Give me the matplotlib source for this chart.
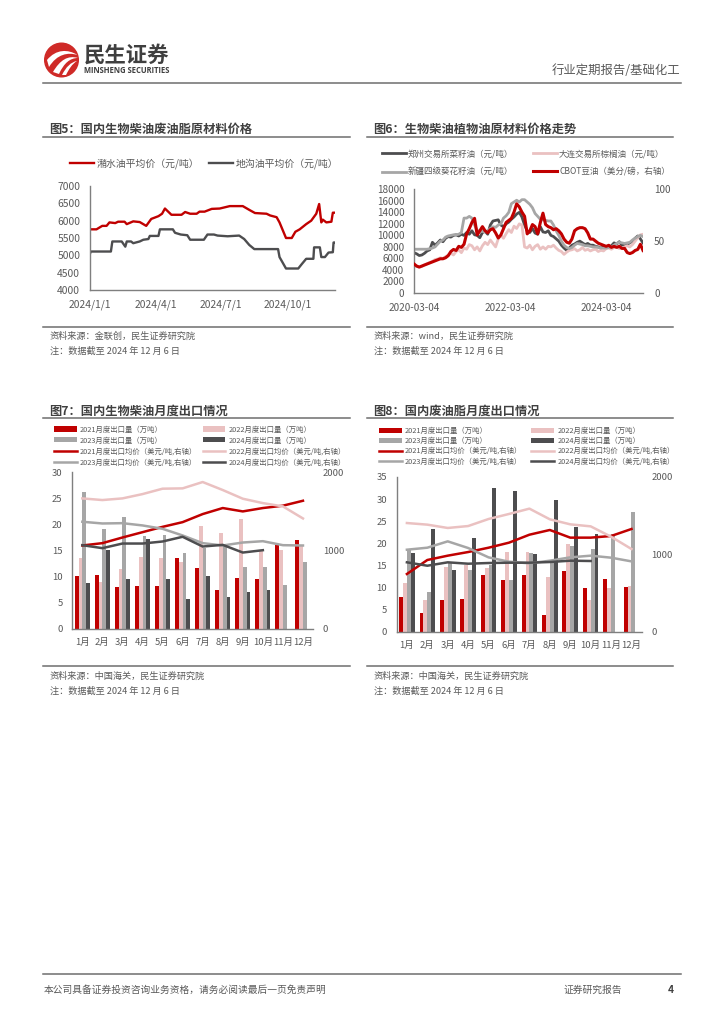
import numpy as np
import pandas as pd
import matplotlib
matplotlib.use("Agg")
import matplotlib.pyplot as plt
from matplotlib.path import Path
from matplotlib.patches import PathPatch, Circle

plt.rcParams['font.family'] = ['Noto Sans CJK SC', 'DejaVu Sans']

RED = '#c00000'
PINK = '#eac1c1'
GRAY = '#a6a6a6'
DARK = '#4d4d4f'
TXT = '#595959'
RULE = '#6e6e6e'

# full width punctuation
CO = '\uff1a'
CM = '\uff0c'
LP = '\uff08'
RP = '\uff09'

# fig 5
red5_dates = ['1/1','1/10','1/14','1/18','1/24','1/28','2/5','2/9','2/18','2/21','3/1','3/10','3/19','3/26','4/5','4/10','4/14','4/23','5/7','5/12','5/19','5/28','6/1','6/8','6/18','6/29','7/13','7/31','8/10','8/17','9/2','9/7','9/16','9/20','9/29','10/7','10/12','10/18','10/27','11/3','11/10','11/14','11/17','11/19','11/24','12/1','12/3','12/6']
red5 = [5750,5750,5800,5850,5850,5950,5930,5970,5970,5900,5980,5960,5850,6050,6130,6200,6350,6170,6170,6250,6200,6200,6260,6260,6340,6350,6420,6420,6300,6220,6200,6150,6100,5950,5500,5500,5680,5750,5900,6000,6200,6480,5950,6030,5950,5970,6230,6230]
gray5_dates = ['1/1','1/2','1/30','2/1','2/14','2/19','2/21','2/27','3/1','3/10','3/15','3/22','3/24','4/5','4/7','4/25','4/28','5/6','5/15','5/19','6/7','6/12','6/21','6/26','7/10','7/26','8/2','8/9','8/16','9/18','9/20','9/29','10/16','10/21','10/27','11/6','11/7','11/15','11/17','11/22','11/27','12/3','12/4','12/6']
gray5 = [5050,5110,5110,5400,5400,5250,5400,5400,5350,5400,5450,5470,5560,5560,5750,5750,5650,5600,5580,5450,5450,5600,5600,5570,5550,5570,5470,5300,5180,5180,4950,4620,4620,4750,4900,4900,5230,5230,4950,4950,5080,5090,5370,5370]
ticks5 = ['2024/1/1', '2024/4/1', '2024/7/1', '2024/10/1']

# fig 6
rapeseed = [7000,6800,6500,6600,6900,7300,7500,8800,8300,8700,
            9200,8900,9500,9800,9700,10000,10100,9900,10200,10000,
            10500,10200,10800,10100,10000,9600,10500,10700,10200,11800,
            12500,12600,12700,11800,11500,12000,12300,12800,13200,13700,
            14000,13200,11800,10800,10500,11200,10400,10200,11500,10600,
            10500,10800,10000,9800,9400,9000,8300,7800,7400,7800,
            8300,8500,8800,9000,8700,8400,8600,8300,8300,8100,
            8000,7800,8000,8100,7900,8200,8700,8500,8900,8300,
            8400,8500,8700,9000,9500,9900,9400,8700]
palm = [4800,4600,4500,4600,4900,5100,5300,5500,5800,5900,
        6100,6000,6300,6600,6900,6600,7200,7500,7000,7800,
        7600,8400,8200,7500,8000,7300,8200,8800,8400,9200,
        8600,8000,9400,10000,9500,10300,11000,10500,11600,11200,
        12000,11800,8000,7800,8300,7500,8100,8400,7600,8000,
        7600,8100,8000,8300,7800,7400,7200,6700,7100,7400,
        7500,7700,7300,7500,7900,7400,7600,7300,7500,7600,
        7200,7400,7300,7700,7800,7600,7900,8000,7700,7800,
        8000,8200,8000,8400,9000,9600,10100,10200]
sunflower = [7600,7600,7600,7600,7600,7600,7700,7800,8000,8500,
             9000,9200,9700,9900,10000,10100,10100,10200,10500,13000,
             13000,13300,13000,11800,10900,10600,10700,10600,10800,11200,
             11500,11400,11800,12000,13000,13400,14000,15500,15800,16100,
             15800,16200,16200,15800,15400,14800,13800,13300,12800,12700,
             12600,12500,12500,11800,10800,10000,9000,8300,7900,7700,
             7900,8300,8600,8500,8400,8200,8200,8100,8000,8000,
             7900,7800,7800,7800,7900,8000,8300,8600,8800,8700,
             8600,8700,8800,9200,9500,9800,10000,9800]
cbot = [28,26,25,26,27,28,29,30,31,32,
        33,33,34,36,40,42,41,45,44,47,
        57,62,68,72,56,60,64,60,58,61,
        62,58,53,56,62,68,70,72,78,86,
        83,78,74,57,60,66,64,57,68,77,
        66,64,63,61,62,60,57,52,49,48,
        52,60,62,63,63,62,58,52,52,50,
        48,47,46,45,46,44,45,44,45,43,
        43,39,38,39,41,42,47,41]
ticks6 = ['2020-03-04', '2022-03-04', '2024-03-04']

months = ['1月','2月','3月','4月','5月','6月','7月','8月','9月','10月','11月','12月']
nan = np.nan

# fig 7
vol7_21 = [10,10.2,8,8.2,8.2,13.5,11.7,7.4,9.7,9.5,16,17]
vol7_22 = [13.5,9,11.4,13.7,13.5,12.8,19.7,18.3,21,15,15,16]
vol7_23 = [26.2,19,21.3,17.7,18,14.4,15.5,15.8,11.9,11.8,8.3,12.7]
vol7_24 = [8.8,15,9.5,17.2,9.5,5.6,10,6,7,7.4,nan,nan]
px7_21 = [1062,1092,1164,1232,1300,1360,1463,1540,1497,1540,1570,1633]
px7_22 = [1663,1642,1663,1718,1787,1791,1872,1770,1659,1603,1561,1407]
px7_23 = [1365,1343,1347,1318,1275,1190,1092,1062,1100,1117,1066,1062]
px7_24 = [1066,1028,1087,1087,1113,1173,1049,1070,972,1002,nan,nan]

# fig 8
vol8_21 = [7.8,4.2,7.1,7.5,12.9,11.8,12.8,3.8,13.7,10,12,10.2]
vol8_22 = [11,7.2,14.6,15,14.4,18,18.1,12.3,19.8,7.1,9.8,10.3]
vol8_23 = [18.5,9,15.5,13.9,15,11.6,17.7,15.5,19.5,18.7,22,27]
vol8_24 = [17.7,23.3,13.9,21.2,32.5,31.9,17.6,29.9,23.7,22.2,nan,nan]
px8_21 = [746,927,983,1030,1086,1151,1254,1315,1216,1216,1237,1328]
px8_22 = [1405,1384,1341,1366,1457,1522,1591,1453,1388,1362,1228,1069]
px8_23 = [1060,1086,1168,1082,961,905,884,918,961,983,957,909]
px8_24 = [897,853,897,879,888,892,892,901,918,914,nan,nan]

W, H = 724, 1024
fig = plt.figure(figsize=(W/100, H/100), dpi=100)

# page layer in pixels
page = fig.add_axes([0, 0, 1, 1])
page.set_xlim(0, W)
page.set_ylim(H, 0)
page.axis('off')


def axes_px(x0, x1, ytop, ybot, size=7.4, ypad=7, xpad=7):
    ax = fig.add_axes([x0/W, 1-ybot/H, (x1-x0)/W, (ybot-ytop)/H])
    ax.patch.set_alpha(0)
    for s in ['top', 'right']:
        ax.spines[s].set_visible(False)
    for s in ['left', 'bottom']:
        ax.spines[s].set_color('#7f7f7f')
        ax.spines[s].set_linewidth(1.0)
    ax.tick_params(length=0, labelsize=size, labelcolor=TXT)
    ax.tick_params(axis='y', pad=ypad)
    ax.tick_params(axis='x', pad=xpad)
    return ax


def right_axis(ax, size, pad):
    axr = ax.twinx()
    axr.patch.set_alpha(0)
    axr.tick_params(length=0, labelsize=size, labelcolor=TXT, pad=pad)
    for s in ['top', 'right', 'left', 'bottom']:
        axr.spines[s].set_visible(False)
    return axr


def legend_px(ax, hs, x, y, ncol, size, **kw):
    labels = [h.get_label() for h in hs]
    ax.legend(hs, labels, loc='upper left', bbox_to_anchor=(x/W, 1-y/H), bbox_transform=fig.transFigure,
              ncol=ncol, frameon=False, fontsize=size, labelcolor=TXT, borderpad=0, borderaxespad=0, **kw)


def panel(x0, x1, title, ytitle, yrule, ybottom, source):
    page.text(x0+6.5, ytitle, title, fontsize=8.8, fontweight='bold', color='#404040', va='center')
    page.plot([x0, x1], [yrule, yrule], color=RULE, lw=1.1)
    page.plot([x0, x1], [ybottom, ybottom], color=RULE, lw=1.1)
    page.text(x0+7, ybottom+10, source, fontsize=6.6, color=TXT, va='center')
    page.text(x0+7, ybottom+25, '注' + CO + '数据截至 2024 年 12 月 6 日', fontsize=6.6, color=TXT, va='center')


# header
page.add_patch(Circle((61.5, 60), 16.8, color='#cf2a27', zorder=2))
for p0, c0, c1, p1, c2, c3, p2 in [
        ((47, 60), (56, 49), (68, 49), (77.5, 55), (68, 52), (57, 54), (49, 67)),
        ((53, 72), (60, 60), (68, 55), (78, 58), (70, 58), (64, 63), (59, 74)),
        ((62, 75), (66, 67), (71, 62), (77, 61), (72, 64), (69, 69), (66, 75)),
]:
    verts = [p0, c0, c1, p1, c2, c3, p2, p0]
    codes = [Path.MOVETO, Path.CURVE4, Path.CURVE4, Path.CURVE4, Path.CURVE4, Path.CURVE4, Path.CURVE4, Path.CLOSEPOLY]
    page.add_patch(PathPatch(Path(verts, codes), fc='white', ec='none', zorder=3))
page.text(84, 55, '民生证券', fontsize=15.4, fontweight='bold', color='#3f3f3f', va='center')
page.text(84.5, 70.7, 'MINSHENG SECURITIES', fontsize=5.5, fontweight='bold', color='#3f3f3f', va='center', family='Open Sans')
page.text(680, 70, '行业定期报告/基础化工', fontsize=8.9, color=TXT, va='center', ha='right')
page.plot([43, 681], [83, 83], color=RULE, lw=1.1)

# footer
page.plot([43, 681], [973.5, 973.5], color=RULE, lw=1.1)
page.text(44, 990, '本公司具备证券投资咨询业务资格' + CM + '请务必阅读最后一页免责声明', fontsize=7, color=TXT, va='center')
page.text(563, 990, '证券研究报告', fontsize=7, color=TXT, va='center')
page.text(668, 990, '4', fontsize=7.4, fontweight='bold', color='#404040', va='center')

panel(43, 350, '图5' + CO + '国内生物柴油废油脂原材料价格', 129, 137, 326.5, '资料来源' + CO + '金联创' + CM + '民生证券研究院')
panel(367, 673, '图6' + CO + '生物柴油植物油原材料价格走势', 129, 137, 326.5, '资料来源' + CO + 'wind' + CM + '民生证券研究院')
panel(43, 350, '图7' + CO + '国内生物柴油月度出口情况', 411, 418, 666, '资料来源' + CO + '中国海关' + CM + '民生证券研究院')
panel(367, 673, '图8' + CO + '国内废油脂月度出口情况', 411, 418, 666, '资料来源' + CO + '中国海关' + CM + '民生证券研究院')

# fig 5
ax = axes_px(90, 335, 186, 290)
d_red = pd.to_datetime(['2024/' + d for d in red5_dates])
d_gray = pd.to_datetime(['2024/' + d for d in gray5_dates])
l1, = ax.plot(d_red, red5, color=RED, lw=1.7, label='潲水油平均价' + LP + '元/吨' + RP)
l2, = ax.plot(d_gray, gray5, color=DARK, lw=1.7, label='地沟油平均价' + LP + '元/吨' + RP)
ax.set_xlim(pd.Timestamp('2024-01-01'), pd.Timestamp('2024-12-06'))
ax.set_ylim(4000, 7000)
ax.set_yticks(range(4000, 7001, 500))
ax.set_xticks(pd.to_datetime(ticks5))
ax.set_xticklabels(ticks5)
legend_px(ax, [l1, l2], 70, 158, 2, 7.1, handlelength=2.4, handletextpad=0.3, columnspacing=1.0)

# fig 6
ax = axes_px(414, 643, 189.3, 293, size=7.2)
dates6 = pd.date_range('2020-03-04', periods=len(rapeseed), freq='20D')
h1, = ax.plot(dates6, rapeseed, color=DARK, lw=2.0, label='郑州交易所菜籽油' + LP + '元/吨' + RP)
h2, = ax.plot(dates6, palm, color=PINK, lw=2.0, label='大连交易所棕榈油' + LP + '元/吨' + RP)
h3, = ax.plot(dates6, sunflower, color=GRAY, lw=2.0, label='新疆四级葵花籽油' + LP + '元/吨' + RP)
ax.set_xlim(dates6[0], dates6[-1])
ax.set_ylim(0, 18000)
ax.set_yticks(range(0, 18001, 2000))
ax.set_xticks(pd.to_datetime(ticks6))
ax.set_xticklabels(ticks6)
axr = right_axis(ax, 7.2, 8)
h4, = axr.plot(dates6, cbot, color=RED, lw=2.2, label='CBOT豆油' + LP + '美分/磅' + CM + '右轴' + RP)
axr.set_ylim(0, 100)
axr.set_yticks([0, 50, 100])
legend_px(ax, [h1, h3, h2, h4], 382, 149, 2, 6.15, handlelength=2.8, handletextpad=0.25, columnspacing=2.3, labelspacing=1.1)


def combo(x0, x1, ytop, ybot, vols, prices, ymax, yticks, lx, ly, colsp, rowsp):
    ax = axes_px(x0, x1, ytop, ybot, size=6.8, xpad=6.5)
    x = np.arange(12)
    w = 0.19
    colors = [RED, PINK, GRAY, DARK]
    bars = []
    for k, (yr, v, c) in enumerate(zip(['2021', '2022', '2023', '2024'], vols, colors)):
        bars.append(ax.bar(x + (k-1.5)*w, v, w, color=c, label=yr + '月度出口量' + LP + '万吨' + RP))
    ax.set_xlim(-0.5, 11.5)
    ax.set_ylim(0, ymax)
    ax.set_yticks(yticks)
    ax.set_xticks(x)
    ax.set_xticklabels(months)
    axr = right_axis(ax, 6.8, 7)
    lines = []
    for yr, p, c in zip(['2021', '2022', '2023', '2024'], prices, colors):
        lines.append(axr.plot(x, p, color=c, lw=1.8, label=yr + '月度出口均价' + LP + '美元/吨,右轴' + RP)[0])
    axr.set_ylim(0, 2000)
    axr.set_yticks([0, 1000, 2000])
    hs = [bars[0], bars[2], lines[0], lines[2], bars[1], bars[3], lines[1], lines[3]]
    legend_px(ax, hs, lx, ly, 2, 5.3, handlelength=3.1, handletextpad=0.45, columnspacing=colsp, labelspacing=rowsp)


combo(72.3, 313, 472, 628.7, [vol7_21, vol7_22, vol7_23, vol7_24], [px7_21, px7_22, px7_23, px7_24],
      30, range(0, 31, 5), 54, 425.5, 0.7, 0.4)
combo(396.7, 641.7, 477, 631.7, [vol8_21, vol8_22, vol8_23, vol8_24], [px8_21, px8_22, px8_23, px8_24],
      35, range(0, 36, 5), 379, 427, 1.2, 0.28)

fig.savefig('out.png', dpi=100)
